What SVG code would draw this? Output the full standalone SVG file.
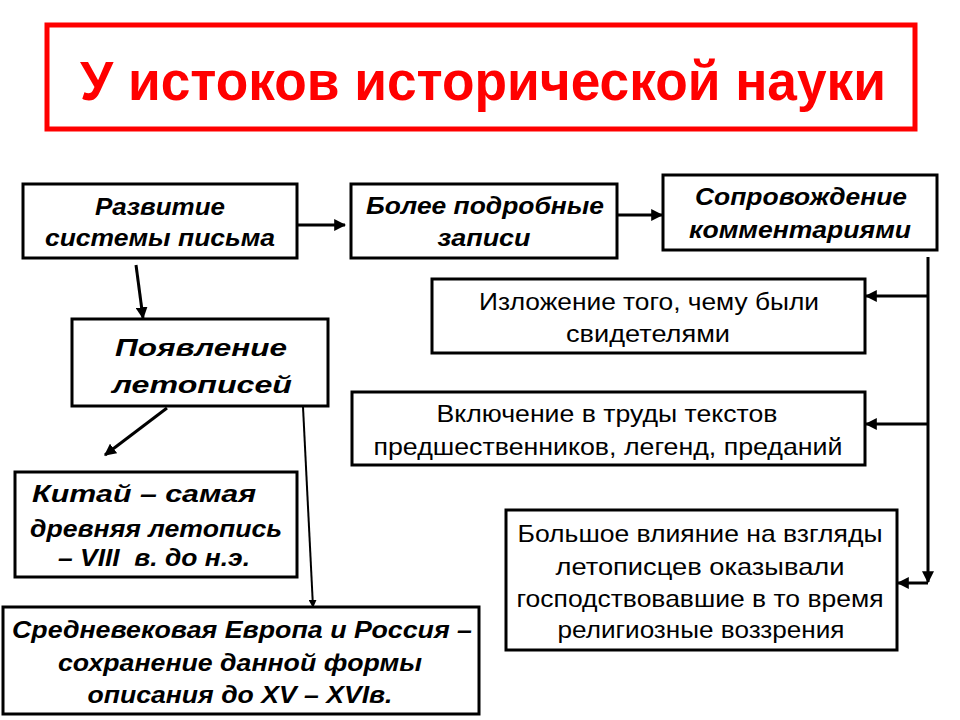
<svg xmlns="http://www.w3.org/2000/svg" width="960" height="720" viewBox="0 0 960 720">
<defs>
<style>
.box{fill:#fff;stroke:#000;stroke-width:3}
.bi{font-family:"Liberation Sans",Arial,sans-serif;font-weight:bold;font-style:italic;font-size:24px;fill:#000;text-anchor:middle}
.rg{font-family:"Liberation Sans",Arial,sans-serif;font-size:24px;fill:#000;text-anchor:middle}
.ln{fill:none;stroke:#000;stroke-width:3}
</style>
<marker id="ah" viewBox="0 0 10 10" refX="9" refY="5" markerWidth="4" markerHeight="4" orient="auto" markerUnits="strokeWidth">
<path d="M0,0 L10,5 L0,10 z" fill="#000"/>
</marker>
</defs>
<rect width="960" height="720" fill="#fff"/>
<g id="title">
<rect x="47" y="25" width="868" height="104" fill="#fff" stroke="#f00" stroke-width="5"/>
<text x="483" y="100" font-family="'Liberation Sans',Arial,sans-serif" font-weight="bold" font-size="56" fill="#f00" text-anchor="middle" textLength="806" lengthAdjust="spacingAndGlyphs">У истоков исторической науки</text>
</g>
<g id="connectors">
<line class="ln" x1="297" y1="225" x2="345" y2="225" marker-end="url(#ah)"/>
<line class="ln" x1="617" y1="215" x2="662" y2="215" marker-end="url(#ah)"/>
<line class="ln" x1="136" y1="265" x2="143" y2="318" marker-end="url(#ah)"/>
<line class="ln" x1="167" y1="408" x2="105" y2="455" marker-end="url(#ah)"/>
<line x1="303" y1="407" x2="313" y2="607" stroke="#000" stroke-width="2" marker-end="url(#ah)"/>
<line class="ln" x1="928" y1="257" x2="928" y2="582" marker-end="url(#ah)"/>
<line class="ln" x1="928" y1="296" x2="866" y2="296" marker-end="url(#ah)"/>
<line class="ln" x1="928" y1="424" x2="866" y2="424" marker-end="url(#ah)"/>
<line class="ln" x1="928" y1="583" x2="898" y2="583" marker-end="url(#ah)"/>
</g>
<g id="n1">
<rect class="box" x="23" y="184" width="274" height="74"/>
<text class="bi" x="160" y="215" textLength="130" lengthAdjust="spacingAndGlyphs">Развитие</text>
<text class="bi" x="160" y="246" textLength="230" lengthAdjust="spacingAndGlyphs">системы письма</text>
</g>
<g id="n2">
<rect class="box" x="351" y="184" width="266" height="74"/>
<text class="bi" x="485" y="214" textLength="238" lengthAdjust="spacingAndGlyphs">Более подробные</text>
<text class="bi" x="484" y="246" textLength="93" lengthAdjust="spacingAndGlyphs">записи</text>
</g>
<g id="n3">
<rect class="box" x="663" y="175" width="274" height="75"/>
<text class="bi" x="801" y="205" textLength="212" lengthAdjust="spacingAndGlyphs">Сопровождение</text>
<text class="bi" x="800" y="238" textLength="222" lengthAdjust="spacingAndGlyphs">комментариями</text>
</g>
<g id="n4">
<rect class="box" x="432" y="279" width="433" height="74"/>
<text class="rg" x="649" y="310" textLength="340" lengthAdjust="spacingAndGlyphs">Изложение того, чему были</text>
<text class="rg" x="648" y="342" textLength="164" lengthAdjust="spacingAndGlyphs">свидетелями</text>
</g>
<g id="n5">
<rect class="box" x="352" y="392" width="513" height="73"/>
<text class="rg" x="607" y="422" textLength="341" lengthAdjust="spacingAndGlyphs">Включение в труды текстов</text>
<text class="rg" x="608" y="455" textLength="469" lengthAdjust="spacingAndGlyphs">предшественников, легенд, преданий</text>
</g>
<g id="n6">
<rect class="box" x="72" y="319" width="256" height="87"/>
<text class="bi" x="201" y="356" font-size="30" textLength="172" lengthAdjust="spacingAndGlyphs">Появление</text>
<text class="bi" x="202" y="393" font-size="30" textLength="180" lengthAdjust="spacingAndGlyphs">летописей</text>
</g>
<g id="n7">
<rect class="box" x="15" y="472" width="282" height="105"/>
<text class="bi" x="144" y="502" textLength="224" lengthAdjust="spacingAndGlyphs">Китай – самая</text>
<text class="bi" x="156" y="537" textLength="252" lengthAdjust="spacingAndGlyphs">древняя летопись</text>
<text class="bi" x="154" y="566" textLength="192" lengthAdjust="spacingAndGlyphs" xml:space="preserve">– VIII  в. до н.э.</text>
</g>
<g id="n8">
<rect class="box" x="3" y="607" width="476" height="107"/>
<text class="bi" x="242" y="638" textLength="460" lengthAdjust="spacingAndGlyphs">Средневековая Европа и Россия –</text>
<text class="bi" x="240" y="671" textLength="364" lengthAdjust="spacingAndGlyphs">сохранение данной формы</text>
<text class="bi" x="240" y="703" textLength="305" lengthAdjust="spacingAndGlyphs">описания до XV – XVIв.</text>
</g>
<g id="n9">
<rect class="box" x="506" y="510" width="391" height="140"/>
<text class="rg" x="700" y="542" textLength="365" lengthAdjust="spacingAndGlyphs">Большое влияние на взгляды</text>
<text class="rg" x="700" y="575" textLength="289" lengthAdjust="spacingAndGlyphs">летописцев оказывали</text>
<text class="rg" x="700" y="607" textLength="367" lengthAdjust="spacingAndGlyphs">господствовавшие в то время</text>
<text class="rg" x="701" y="638" textLength="287" lengthAdjust="spacingAndGlyphs">религиозные воззрения</text>
</g>
</svg>
